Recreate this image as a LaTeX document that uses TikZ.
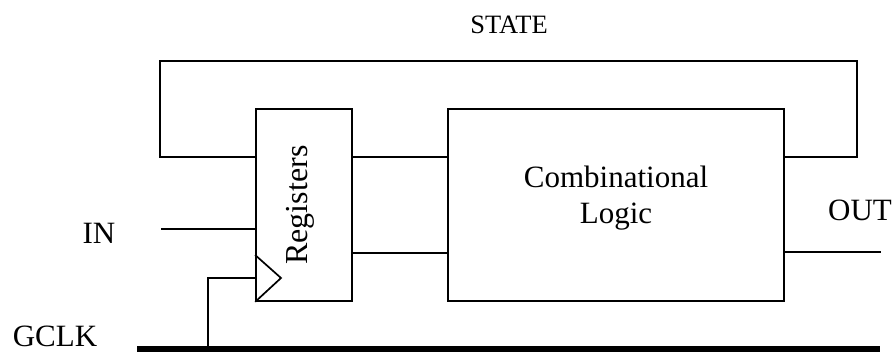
\documentclass[tikz,border=0pt]{standalone}
\usepackage{fontspec}
\setmainfont{Liberation Serif}
\begin{document}
\begin{tikzpicture}[x=1pt,y=-1pt,
  wire/.style={line width=1.7pt},
  bus/.style={line width=6pt},
  blk/.style={draw,line width=1.7pt,inner sep=0pt},
  lbl/.style={font=\fontsize{31}{36}\selectfont,inner sep=0pt},
  small/.style={font=\fontsize{26.5}{30}\selectfont,inner sep=0pt}]
\useasboundingbox (0,0) rectangle (894,354);
% blocks
\node[blk,minimum width=96pt,minimum height=192pt] (reg) at (304,205) {};
\node[blk,minimum width=336pt,minimum height=192pt] (comb) at (616,205) {};
\node[lbl,font=\fontsize{32}{36}\selectfont,rotate=90,anchor=base] (regt) at (307,205) {Registers};
\node[lbl,anchor=base] (combt1) at (616,187) {Combinational};
\node[lbl,anchor=base] (combt2) at (616,223) {Logic};
% labels
\node[small,anchor=base] (state) at (509,33) {STATE};
\node[lbl,anchor=base] (outl) at (860,220) {OUT};
\node[lbl,anchor=base] (inl) at (99,243) {IN};
\node[lbl,anchor=base] (gclk) at (55,346) {GCLK};
% coordinates
\coordinate (fbr) at (857,61);
\coordinate (fbl) at (160,61);
\coordinate (inend) at (161,229);
\coordinate (outend) at (881,252);
\coordinate (ck) at (281,278);
\coordinate (busl) at (137,349);
\coordinate (busr) at (880,349);
\coordinate (tap) at (208,349);
% feedback
\draw[wire] (comb.east |- 0,157) -| (fbr) -- (fbl) |- (reg.west |- 0,157);
% reg to comb
\draw[wire] (reg.east |- 0,157) -- (comb.west |- 0,157);
\draw[wire] (reg.east |- 0,253) -- (comb.west |- 0,253);
% in / out
\draw[wire] (inend) -- (reg.west |- inend);
\draw[wire] (comb.east |- outend) -- (outend);
% clock
\draw[wire] (reg.west |- 0,255) -- (ck) -- (reg.south west);
\draw[wire] (reg.west |- ck) -| (tap);
\draw[bus] (busl) -- (busr);
\end{tikzpicture}
\end{document}
